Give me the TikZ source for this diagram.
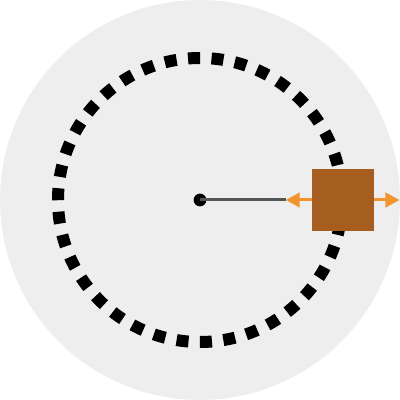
\documentclass[tikz,border=0pt]{standalone}
\definecolor{DiscGray}{RGB}{238, 238, 238}
\definecolor{RodGray}{RGB}{85, 85, 85}
\definecolor{BlockBrown}{RGB}{166, 94, 32}
\definecolor{ForceOrange}{RGB}{242, 148, 48}
\usepackage{tikz}
\usetikzlibrary{arrows.meta, positioning}
\tikzset{
  disc/.style={fill=DiscGray, draw=none},
  orbit/.style={draw=black, line width=0.3cm,
                dash pattern=on 0.3cm off 0.287cm},
  pivot/.style={circle, fill=black, inner sep=0pt, minimum size=0.32cm},
  block/.style={rectangle, fill=BlockBrown, draw=none, inner sep=0pt,
                minimum size=1.55cm},
  rod/.style={draw=RodGray, line width=0.075cm},
  force/.style={-{Triangle[length=0.35cm, width=0.36cm]},
                line width=0.075cm, color=#1},
}
\begin{document}
\begin{tikzpicture}
  \useasboundingbox (-5,-5) rectangle (5,5);

  %% DISC AND ORBIT
  \fill[disc] (0,0) circle (5);
  \draw[orbit] (90:3.55) arc[start angle=90, end angle=450, radius=3.55];

  %% PIVOT AND BLOCK
  \node[pivot] (pivot) at (0,0) {};
  \node[block] (mass) at (3.575,0) {};

  %% FORCE ARROWS
  \coordinate[left=0.65cm of mass.west] (inTip);
  \coordinate[right=0.63cm of mass.east] (outTip);

  \draw[rod] (pivot.center) -- (inTip);
  \draw[force=ForceOrange] (mass.west) -- (inTip);
  \draw[force=ForceOrange] (mass.east) -- (outTip);

\end{tikzpicture}
\end{document}
